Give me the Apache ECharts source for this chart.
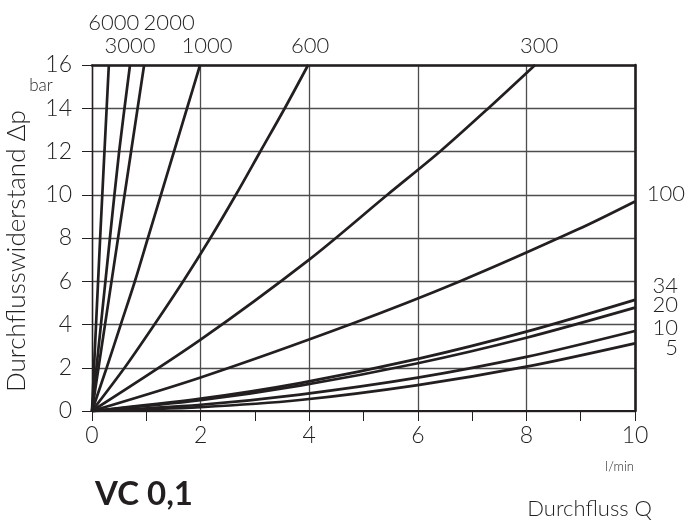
<!DOCTYPE html>
<html>
<head>
<meta charset="utf-8">
<script src="https://cdn.jsdelivr.net/npm/echarts@6/dist/echarts.min.js"></script>
<style>
html,body{margin:0;padding:0;background:#fff;}
#chart{width:687px;height:521px;}
</style>
</head>
<body>
<div id="chart"></div>
<script>
// Axis ticks
const xTicks = [0, 2, 4, 6, 8, 10];
const yTicks = [0, 2, 4, 6, 8, 10, 12, 14, 16];

// Curve labels (viscosity)
const curveNames = ['6000', '3000', '2000', '1000', '600', '300', '100', '34', '20', '10', '5'];

// Flow Q (l/min) and pressure drop Δp (bar) for each curve
const q6000 = [0, 0.15, 0.31];
const p6000 = [0, 8, 16];
const q3000 = [0, 0.33, 0.5, 0.7];
const p3000 = [0, 8, 12, 16];
const q2000 = [0, 0.48, 0.72, 0.96];
const p2000 = [0, 8, 12, 16];
const q1000 = [0, 0.27, 0.53, 0.79, 1.03, 1.27, 1.51, 1.75, 1.99];
const p1000 = [0, 2, 4, 6, 8, 10, 12, 14, 16];
const q600 = [0, 0.6, 1.15, 1.68, 2.18, 2.65, 3.1, 3.55, 3.98];
const p600 = [0, 2, 4, 6, 8, 10, 12, 14, 16];
const q300 = [0, 2, 4, 5.44, 6.41, 7.3, 8.16];
const p300 = [0, 3.3, 7.0, 10, 12, 14, 16];
const q100 = [0, 2, 4.75, 6.78, 8.95, 10];
const p100 = [0, 1.55, 4, 6, 8.4, 9.69];
const q34 = [0, 2, 3.83, 6, 8, 10];
const p34 = [0, 0.57, 1.29, 2.41, 3.67, 5.14];
const q20 = [0, 2, 3.83, 6, 8, 10];
const p20 = [0, 0.5, 1.17, 2.21, 3.39, 4.78];
const q10 = [0, 2, 3.83, 6, 8, 10];
const p10 = [0, 0.29, 0.76, 1.54, 2.5, 3.70];
const q5 = [0, 2, 3.83, 6, 8, 10];
const p5 = [0, 0.18, 0.51, 1.2, 2.05, 3.13];

const curveQ = [q6000, q3000, q2000, q1000, q600, q300, q100, q34, q20, q10, q5];
const curveP = [p6000, p3000, p2000, p1000, p600, p300, p100, p34, p20, p10, p5];

// label placement (style only)
const labelStyle = {
  '6000': {align: 'center', offset: [5, -42]},
  '3000': {align: 'center', offset: [0, -19]},
  '2000': {align: 'center', offset: [25, -42]},
  '1000': {align: 'center', offset: [7, -19]},
  '600':  {align: 'center', offset: [2, -19]},
  '300':  {align: 'center', offset: [4, -19]},
  '100':  {align: 'right', offset: [50, -8]},
  '34':   {align: 'right', offset: [43, -14]},
  '20':   {align: 'right', offset: [43, -3]},
  '10':   {align: 'right', offset: [43, -3]},
  '5':    {align: 'right', offset: [43, 5]}
};

const INK = '#231f20';
const FONT = 'Lato, "Open Sans", sans-serif';

const series = curveNames.map((name, i) => {
  const ls = labelStyle[name];
  return {
    name: name,
    type: 'line',
    data: curveQ[i].map((q, k) => [q, curveP[i][k]]),
    showSymbol: false,
    symbol: 'none',
    smooth: 0.3,
    clip: false,
    lineStyle: {color: INK, width: 2.7},
    z: 5,
    endLabel: {
      show: true,
      formatter: name,
      distance: 0,
      align: ls.align,
      verticalAlign: 'middle',
      offset: ls.offset,
      color: INK,
      fontSize: 22,
      fontFamily: FONT,
      fontWeight: 300
    }
  };
});

const chart = echarts.init(document.getElementById('chart'), null, {renderer: 'canvas'});
chart.setOption({
  animation: false,
  backgroundColor: '#fff',
  grid: {left: 92, right: 52, top: 65, bottom: 110},
  xAxis: [{
    type: 'value', min: xTicks[0], max: xTicks[xTicks.length - 1], interval: 2,
    position: 'bottom',
    axisLine: {show: true, onZero: false, lineStyle: {color: INK, width: 2.2}},
    axisTick: {show: true, inside: false, length: 10, lineStyle: {color: INK, width: 1}},
    minorTick: {show: true, splitNumber: 2, length: 10, lineStyle: {color: INK, width: 1}},
    splitLine: {show: true, lineStyle: {color: '#4d4d4d', width: 1.3}},
    axisLabel: {color: INK, fontSize: 23, fontFamily: FONT, fontWeight: 300, margin: 13}
  }, {
    type: 'value', min: 0, max: 10, position: 'top',
    axisLine: {show: true, onZero: false, lineStyle: {color: INK, width: 2.6}},
    axisTick: {show: false}, axisLabel: {show: false}, splitLine: {show: false}
  }],
  yAxis: [{
    type: 'value', min: yTicks[0], max: yTicks[yTicks.length - 1], interval: 2,
    position: 'left',
    axisLine: {show: true, onZero: false, lineStyle: {color: INK, width: 1.4}},
    axisTick: {show: true, inside: false, length: 10, lineStyle: {color: INK, width: 1}},
    splitLine: {show: true, lineStyle: {color: '#4d4d4d', width: 1.3}},
    axisLabel: {color: INK, fontSize: 23, fontFamily: FONT, fontWeight: 300, margin: 20}
  }, {
    type: 'value', min: 0, max: 16, position: 'right',
    axisLine: {show: true, onZero: false, lineStyle: {color: INK, width: 2.6}},
    axisTick: {show: false}, axisLabel: {show: false}, splitLine: {show: false}
  }],
  graphic: [
    {type: 'text', x: 17, y: 251, rotation: Math.PI / 2,
     style: {text: 'Durchflusswiderstand Δp', fill: INK, font: '300 26px ' + FONT, textAlign: 'center', textVerticalAlign: 'middle'}},
    {type: 'text', x: 41, y: 86,
     style: {text: 'bar', fill: INK, font: '300 17px ' + FONT, textAlign: 'center', textVerticalAlign: 'middle'}},
    {type: 'text', x: 634, y: 467,
     style: {text: 'l/min', fill: INK, font: '300 13px ' + FONT, textAlign: 'right', textVerticalAlign: 'middle'}},
    {type: 'text', x: 95, y: 494,
     style: {text: 'VC 0,1', fill: INK, font: 'bold 33px ' + FONT, textAlign: 'left', textVerticalAlign: 'middle'}},
    {type: 'text', x: 652, y: 509,
     style: {text: 'Durchfluss Q', fill: INK, font: '300 22px ' + FONT, textAlign: 'right', textVerticalAlign: 'middle'}}
  ],
  series: series
});
</script>
</body>
</html>
